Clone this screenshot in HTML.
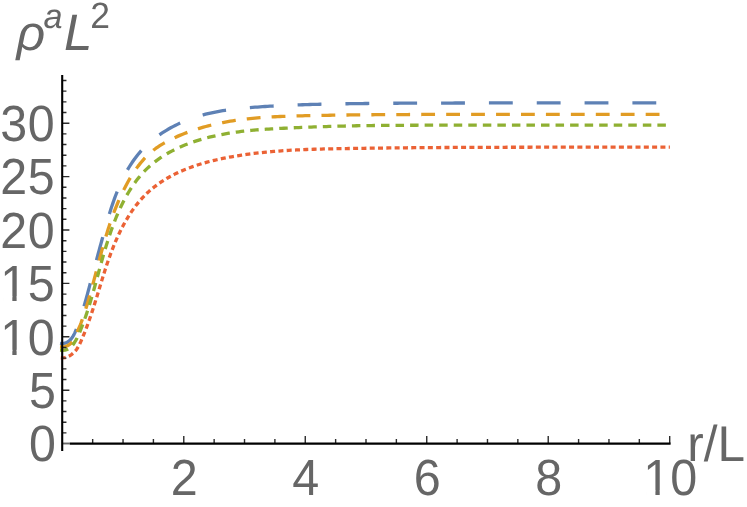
<!DOCTYPE html>
<html><head><meta charset="utf-8"><title>Plot</title>
<style>
html,body{margin:0;padding:0;background:#fff;}
body{width:747px;height:507px;overflow:hidden;font-family:"Liberation Sans",sans-serif;}
svg{display:block;}
</style></head><body>
<svg width="747" height="507" viewBox="0 0 747 507" style="will-change:transform">
<rect width="747" height="507" fill="#fff"/>
<g fill="none" stroke-width="3.3" stroke-linecap="butt" stroke-linejoin="round">
<path stroke="#5E81B5" stroke-dasharray="23.85 23.98" stroke-dashoffset="0" d="M60.01 343.27L62.48 343.57L64.94 343.16L67.24 342.17L69.30 340.77L71.08 339.02L72.58 337.02L73.84 334.86L74.91 332.60L75.87 330.29L76.78 327.96L77.67 325.63L78.52 323.28L79.36 320.92L80.17 318.55L80.95 316.18L81.72 313.80L82.47 311.42L83.20 309.03L83.91 306.63L84.61 304.23L85.30 301.82L85.97 299.42L86.64 297.01L87.29 294.59L87.94 292.18L88.59 289.76L89.23 287.35L89.86 284.93L90.50 282.51L91.14 280.09L91.78 277.68L92.42 275.26L93.07 272.84L93.71 270.43L94.36 268.01L95.00 265.60L95.65 263.18L96.30 260.77L96.95 258.36L97.61 255.94L98.26 253.53L98.91 251.12L99.57 248.70L100.23 246.29L100.89 243.88L101.55 241.47L102.21 239.06L102.87 236.64L103.53 234.23L104.20 231.82L104.87 229.42L105.55 227.01L106.23 224.60L106.92 222.20L107.62 219.80L108.33 217.40L109.06 215.01L109.79 212.62L110.54 210.24L111.31 207.86L112.09 205.48L112.90 203.11L113.72 200.75L114.56 198.40L115.43 196.05L116.32 193.72L117.23 191.39L118.17 189.07L119.14 186.77L120.14 184.48L121.17 182.20L122.23 179.93L123.33 177.69L124.46 175.46L125.63 173.25L126.84 171.06L128.08 168.89L129.37 166.75L130.70 164.63L132.07 162.54L133.49 160.48L134.95 158.45L136.46 156.46L138.01 154.50L139.62 152.58L141.27 150.70L142.97 148.87L144.71 147.08L146.50 145.33L148.33 143.63L150.21 141.98L152.12 140.36L154.07 138.80L156.05 137.27L158.06 135.79L160.11 134.35L162.18 132.96L164.29 131.61L166.42 130.30L168.57 129.03L170.75 127.81L172.95 126.62L175.18 125.48L177.42 124.38L179.69 123.32L181.97 122.29L184.27 121.31L186.58 120.37L188.91 119.46L191.26 118.60L193.62 117.77L195.99 116.98L198.37 116.23L200.77 115.52L203.18 114.85L205.60 114.21L208.02 113.61L210.46 113.05L212.90 112.52L215.35 112.02L217.81 111.56L220.27 111.12L222.74 110.71L225.21 110.33L227.69 109.98L230.16 109.64L232.64 109.33L235.13 109.04L237.61 108.77L240.10 108.51L242.59 108.27L245.08 108.04L247.57 107.82L250.06 107.61L252.55 107.41L255.05 107.21L257.54 107.03L260.03 106.85L262.53 106.68L265.02 106.51L267.52 106.35L270.01 106.20L272.51 106.05L275.00 105.91L277.50 105.78L280.00 105.65L282.50 105.53L284.99 105.41L287.49 105.30L289.99 105.19L292.49 105.09L294.99 104.99L297.48 104.90L299.98 104.81L302.48 104.73L304.98 104.65L307.48 104.57L309.98 104.50L312.48 104.43L314.98 104.36L317.48 104.30L319.98 104.24L322.48 104.18L324.98 104.13L327.48 104.08L329.97 104.03L332.47 103.98L334.97 103.93L337.47 103.89L339.97 103.85L342.47 103.81L344.97 103.77L347.47 103.73L349.97 103.69L352.47 103.66L354.97 103.63L357.47 103.59L359.97 103.56L362.47 103.53L364.97 103.51L367.47 103.48L369.97 103.45L372.47 103.43L374.97 103.41L377.48 103.39L379.98 103.36L382.48 103.34L384.98 103.32L387.48 103.31L389.98 103.29L392.48 103.27L394.98 103.25L397.48 103.24L399.98 103.22L402.48 103.21L404.98 103.20L407.48 103.18L409.98 103.17L412.48 103.16L414.98 103.15L417.48 103.14L419.98 103.13L422.48 103.12L424.98 103.11L427.48 103.10L429.98 103.09L432.48 103.08L434.98 103.07L437.48 103.07L439.98 103.06L442.48 103.05L444.98 103.04L447.48 103.04L449.98 103.03L452.48 103.03L454.98 103.02L457.48 103.02L459.98 103.01L462.48 103.01L464.98 103.00L467.48 103.00L469.98 102.99L472.48 102.99L474.98 102.98L477.48 102.98L479.98 102.98L482.48 102.97L484.99 102.97L487.49 102.97L489.99 102.96L492.49 102.96L494.99 102.96L497.49 102.96L499.99 102.95L502.49 102.95L504.99 102.95L507.49 102.95L509.99 102.95L512.49 102.94L514.99 102.94L517.49 102.94L519.99 102.94L522.49 102.94L524.99 102.93L527.49 102.93L529.99 102.93L532.49 102.93L534.99 102.93L537.49 102.93L539.99 102.93L542.49 102.93L544.99 102.92L547.49 102.92L549.99 102.92L552.49 102.92L554.99 102.92L557.49 102.92L559.99 102.92L562.49 102.92L564.99 102.92L567.49 102.92L569.99 102.92L572.49 102.91L574.99 102.91L577.49 102.91L579.99 102.91L582.50 102.91L585.00 102.91L587.50 102.91L590.00 102.91L592.50 102.91L595.00 102.91L597.50 102.91L600.00 102.91L602.50 102.91L605.00 102.91L607.50 102.91L610.00 102.91L612.50 102.91L615.00 102.91L617.50 102.91L620.00 102.91L622.50 102.91L625.00 102.91L627.50 102.91L630.00 102.91L632.50 102.91L635.00 102.90L637.50 102.90L640.00 102.90L642.50 102.90L645.00 102.90L647.50 102.90L650.00 102.90L652.50 102.90L655.00 102.90L657.50 102.90L660.00 102.90L662.50 102.90L665.00 102.90L667.50 102.90L670.00 102.90"/>
<path stroke="#E19C24" stroke-dasharray="13.82 11.12" stroke-dashoffset="0" d="M60.01 346.76L62.50 346.99L64.97 346.65L67.32 345.81L69.47 344.54L71.37 342.92L72.96 340.99L74.25 338.85L75.32 336.59L76.26 334.28L77.18 331.95L78.16 329.65L79.20 327.37L80.19 325.08L81.10 322.75L81.95 320.40L82.77 318.04L83.57 315.67L84.35 313.29L85.12 310.91L85.87 308.53L86.61 306.14L87.34 303.74L88.05 301.35L88.76 298.95L89.45 296.55L90.13 294.14L90.81 291.73L91.48 289.32L92.14 286.91L92.79 284.50L93.44 282.08L94.09 279.67L94.73 277.25L95.37 274.83L96.01 272.41L96.64 270.00L97.28 267.58L97.92 265.16L98.56 262.74L99.20 260.33L99.85 257.91L100.50 255.49L101.15 253.08L101.81 250.67L102.48 248.26L103.16 245.85L103.84 243.45L104.54 241.04L105.24 238.64L105.96 236.25L106.68 233.86L107.42 231.47L108.18 229.08L108.95 226.70L109.73 224.33L110.53 221.96L111.35 219.60L112.18 217.24L113.03 214.89L113.91 212.54L114.80 210.21L115.71 207.88L116.65 205.56L117.61 203.25L118.59 200.95L119.59 198.66L120.62 196.38L121.68 194.12L122.76 191.86L123.87 189.62L125.00 187.39L126.16 185.18L127.35 182.98L128.57 180.79L129.82 178.63L131.11 176.48L132.43 174.36L133.79 172.26L135.19 170.19L136.63 168.14L138.11 166.13L139.64 164.15L141.22 162.21L142.84 160.31L144.52 158.45L146.25 156.65L148.03 154.89L149.86 153.19L151.75 151.55L153.69 149.98L155.69 148.47L157.73 147.03L159.82 145.65L161.94 144.32L164.09 143.06L166.28 141.84L168.49 140.67L170.72 139.54L172.97 138.45L175.24 137.40L177.52 136.38L179.82 135.39L182.13 134.43L184.45 133.50L186.78 132.60L189.13 131.73L191.49 130.90L193.85 130.09L196.23 129.31L198.61 128.56L201.01 127.84L203.41 127.15L205.82 126.49L208.24 125.85L210.67 125.24L213.10 124.65L215.54 124.09L217.98 123.56L220.43 123.05L222.88 122.56L225.34 122.10L227.80 121.66L230.26 121.24L232.73 120.85L235.21 120.47L237.68 120.11L240.16 119.78L242.64 119.46L245.12 119.16L247.61 118.88L250.09 118.61L252.58 118.36L255.07 118.13L257.56 117.91L260.05 117.70L262.55 117.51L265.04 117.33L267.54 117.17L270.03 117.01L272.53 116.87L275.03 116.73L277.52 116.61L280.02 116.50L282.52 116.39L285.02 116.29L287.52 116.20L290.02 116.12L292.52 116.04L295.02 115.97L297.52 115.90L300.02 115.84L302.52 115.78L305.02 115.72L307.52 115.67L310.02 115.62L312.52 115.57L315.02 115.52L317.52 115.47L320.02 115.42L322.52 115.38L325.02 115.33L327.52 115.29L330.02 115.24L332.52 115.20L335.02 115.16L337.52 115.12L340.02 115.09L342.52 115.05L345.02 115.02L347.52 114.98L350.02 114.95L352.52 114.92L355.03 114.90L357.53 114.87L360.03 114.84L362.53 114.82L365.03 114.80L367.53 114.77L370.03 114.75L372.53 114.73L375.03 114.71L377.53 114.69L380.03 114.68L382.53 114.66L385.03 114.64L387.53 114.63L390.03 114.61L392.53 114.60L395.04 114.59L397.54 114.57L400.04 114.56L402.54 114.55L405.04 114.54L407.54 114.53L410.04 114.52L412.54 114.51L415.04 114.50L417.54 114.49L420.04 114.48L422.54 114.47L425.04 114.47L427.54 114.46L430.05 114.45L432.55 114.44L435.05 114.44L437.55 114.43L440.05 114.43L442.55 114.42L445.05 114.41L447.55 114.41L450.05 114.40L452.55 114.40L455.05 114.40L457.55 114.39L460.05 114.39L462.55 114.38L465.06 114.38L467.56 114.38L470.06 114.37L472.56 114.37L475.06 114.37L477.56 114.36L480.06 114.36L482.56 114.36L485.06 114.35L487.56 114.35L490.06 114.35L492.56 114.35L495.06 114.35L497.56 114.34L500.07 114.34L502.57 114.34L505.07 114.34L507.57 114.34L510.07 114.33L512.57 114.33L515.07 114.33L517.57 114.33L520.07 114.33L522.57 114.33L525.07 114.33L527.57 114.33L530.07 114.32L532.57 114.32L535.08 114.32L537.58 114.32L540.08 114.32L542.58 114.32L545.08 114.32L547.58 114.32L550.08 114.32L552.58 114.32L555.08 114.32L557.58 114.31L560.08 114.31L562.58 114.31L565.08 114.31L567.59 114.31L570.09 114.31L572.59 114.31L575.09 114.31L577.59 114.31L580.09 114.31L582.59 114.31L585.09 114.31L587.59 114.31L590.09 114.31L592.59 114.31L595.09 114.31L597.59 114.31L600.09 114.31L602.60 114.31L605.10 114.31L607.60 114.31L610.10 114.31L612.60 114.31L615.10 114.31L617.60 114.30L620.10 114.30L622.60 114.30L625.10 114.30L627.60 114.30L630.10 114.30L632.60 114.30L635.10 114.30L637.61 114.30L640.11 114.30L642.61 114.30L645.11 114.30L647.61 114.30L650.11 114.30L652.61 114.30L655.11 114.30L657.61 114.30L660.11 114.30L662.61 114.30L665.11 114.30L667.61 114.30L670.11 114.30"/>
<path stroke="#8FB032" stroke-dasharray="8.5 6.046" stroke-dashoffset="0.2" d="M60.03 350.10L62.53 350.26L65.03 350.10L67.44 349.44L69.62 348.20L71.49 346.53L73.09 344.61L74.49 342.53L75.76 340.37L76.94 338.16L78.05 335.91L79.09 333.62L80.08 331.32L81.02 329.00L81.94 326.66L82.83 324.32L83.70 321.97L84.55 319.61L85.38 317.24L86.19 314.87L86.98 312.49L87.76 310.11L88.52 307.72L89.27 305.32L90.01 302.93L90.74 300.53L91.45 298.12L92.15 295.72L92.85 293.31L93.54 290.90L94.21 288.48L94.89 286.07L95.56 283.65L96.22 281.23L96.88 278.81L97.54 276.39L98.20 273.97L98.86 271.55L99.52 269.14L100.18 266.72L100.84 264.30L101.52 261.88L102.19 259.47L102.87 257.06L103.56 254.65L104.26 252.24L104.97 249.83L105.69 247.43L106.42 245.03L107.17 242.64L107.93 240.25L108.70 237.86L109.49 235.48L110.29 233.11L111.12 230.74L111.96 228.38L112.82 226.02L113.70 223.67L114.60 221.33L115.52 219.00L116.47 216.68L117.44 214.37L118.43 212.06L119.45 209.78L120.50 207.50L121.58 205.24L122.69 202.99L123.83 200.75L125.01 198.54L126.21 196.34L127.45 194.16L128.73 192.00L130.05 189.87L131.40 187.76L132.79 185.67L134.22 183.61L135.70 181.58L137.21 179.59L138.77 177.62L140.38 175.70L142.03 173.81L143.73 171.96L145.47 170.16L147.26 168.41L149.10 166.70L150.98 165.04L152.90 163.43L154.86 161.87L156.86 160.36L158.90 158.90L160.97 157.48L163.07 156.11L165.20 154.79L167.36 153.52L169.54 152.28L171.75 151.10L173.98 149.95L176.23 148.85L178.51 147.78L180.79 146.76L183.10 145.77L185.42 144.83L187.76 143.92L190.11 143.04L192.47 142.20L194.85 141.40L197.23 140.62L199.63 139.88L202.03 139.17L204.45 138.49L206.87 137.84L209.30 137.22L211.73 136.63L214.18 136.07L216.63 135.53L219.08 135.02L221.54 134.53L224.00 134.07L226.47 133.63L228.95 133.22L231.42 132.82L233.90 132.45L236.39 132.10L238.87 131.77L241.36 131.46L243.85 131.17L246.34 130.89L248.84 130.63L251.33 130.39L253.83 130.16L256.33 129.95L258.83 129.74L261.33 129.55L263.83 129.37L266.33 129.20L268.83 129.04L271.34 128.89L273.84 128.75L276.34 128.61L278.85 128.48L281.35 128.35L283.86 128.23L286.36 128.11L288.86 127.99L291.37 127.87L293.87 127.76L296.38 127.65L298.88 127.55L301.39 127.44L303.90 127.34L306.40 127.24L308.91 127.14L311.41 127.05L313.92 126.96L316.42 126.87L318.93 126.78L321.44 126.70L323.94 126.62L326.45 126.54L328.95 126.46L331.46 126.39L333.97 126.31L336.47 126.24L338.98 126.17L341.49 126.11L343.99 126.04L346.50 125.98L349.01 125.92L351.51 125.87L354.02 125.82L356.53 125.77L359.04 125.72L361.54 125.68L364.05 125.64L366.56 125.61L369.06 125.57L371.57 125.54L374.08 125.51L376.59 125.49L379.09 125.46L381.60 125.44L384.11 125.41L386.62 125.39L389.12 125.37L391.63 125.36L394.14 125.34L396.65 125.32L399.15 125.31L401.66 125.29L404.17 125.28L406.68 125.27L409.18 125.26L411.69 125.25L414.20 125.24L416.71 125.23L419.21 125.22L421.72 125.21L424.23 125.20L426.74 125.20L429.24 125.19L431.75 125.19L434.26 125.18L436.77 125.17L439.27 125.17L441.78 125.16L444.29 125.16L446.80 125.16L449.30 125.15L451.81 125.15L454.32 125.15L456.83 125.14L459.33 125.14L461.84 125.14L464.35 125.13L466.86 125.13L469.36 125.13L471.87 125.13L474.38 125.13L476.89 125.12L479.39 125.12L481.90 125.12L484.41 125.12L486.92 125.12L489.42 125.12L491.93 125.12L494.44 125.12L496.95 125.11L499.45 125.11L501.96 125.11L504.47 125.11L506.98 125.11L509.48 125.11L511.99 125.11L514.50 125.11L517.01 125.11L519.51 125.11L522.02 125.11L524.53 125.11L527.04 125.11L529.54 125.11L532.05 125.11L534.56 125.11L537.07 125.10L539.57 125.10L542.08 125.10L544.59 125.10L547.10 125.10L549.60 125.10L552.11 125.10L554.62 125.10L557.13 125.10L559.63 125.10L562.14 125.10L564.65 125.10L567.16 125.10L569.66 125.10L572.17 125.10L574.68 125.10L577.19 125.10L579.69 125.10L582.20 125.10L584.71 125.10L587.22 125.10L589.72 125.10L592.23 125.10L594.74 125.10L597.25 125.10L599.75 125.10L602.26 125.10L604.77 125.10L607.28 125.10L609.78 125.10L612.29 125.10L614.80 125.10L617.31 125.10L619.81 125.10L622.32 125.10L624.83 125.10L627.34 125.10L629.84 125.10L632.35 125.10L634.86 125.10L637.37 125.10L639.87 125.10L642.38 125.10L644.89 125.10L647.40 125.10L649.90 125.10L652.41 125.10L654.92 125.10L657.43 125.10L659.93 125.10L662.44 125.10L664.95 125.10L667.46 125.10L669.96 125.10"/>
<path stroke="#EB6235" stroke-dasharray="5.0 3.306" stroke-dashoffset="-0.8" d="M60.03 357.67L62.52 357.89L65.01 357.60L67.40 356.86L69.66 355.77L71.75 354.38L73.66 352.77L75.39 350.95L76.92 348.97L78.25 346.84L79.41 344.62L80.47 342.35L81.48 340.05L82.47 337.75L83.43 335.44L84.38 333.11L85.30 330.78L86.20 328.44L87.08 326.09L87.95 323.74L88.80 321.38L89.63 319.02L90.45 316.65L91.25 314.27L92.05 311.89L92.83 309.51L93.60 307.13L94.36 304.74L95.11 302.35L95.86 299.95L96.60 297.56L97.34 295.16L98.07 292.76L98.80 290.36L99.52 287.96L100.25 285.56L100.98 283.16L101.71 280.76L102.45 278.37L103.19 275.97L103.94 273.58L104.69 271.19L105.46 268.80L106.24 266.42L107.03 264.04L107.84 261.67L108.66 259.30L109.50 256.93L110.35 254.58L111.23 252.23L112.12 249.89L113.04 247.55L113.98 245.23L114.94 242.91L115.93 240.61L116.94 238.31L117.98 236.03L119.04 233.76L120.13 231.50L121.25 229.26L122.40 227.03L123.58 224.82L124.80 222.62L126.04 220.45L127.31 218.29L128.63 216.15L129.97 214.04L131.36 211.95L132.78 209.88L134.24 207.84L135.74 205.83L137.28 203.86L138.87 201.91L140.49 200.01L142.17 198.14L143.89 196.32L145.65 194.54L147.46 192.80L149.32 191.11L151.21 189.47L153.14 187.87L155.11 186.32L157.12 184.82L159.16 183.36L161.23 181.95L163.33 180.58L165.46 179.26L167.62 177.98L169.80 176.75L172.01 175.55L174.24 174.40L176.49 173.30L178.75 172.23L181.04 171.20L183.34 170.21L185.66 169.25L188.00 168.34L190.34 167.45L192.70 166.60L195.07 165.79L197.45 165.00L199.84 164.25L202.25 163.53L204.65 162.83L207.07 162.16L209.49 161.52L211.93 160.91L214.36 160.31L216.80 159.75L219.25 159.20L221.70 158.68L224.16 158.18L226.62 157.70L229.09 157.23L231.55 156.79L234.02 156.36L236.50 155.95L238.97 155.55L241.45 155.17L243.93 154.81L246.41 154.45L248.90 154.11L251.38 153.79L253.87 153.48L256.36 153.18L258.85 152.90L261.34 152.62L263.84 152.36L266.33 152.11L268.83 151.88L271.33 151.65L273.83 151.44L276.32 151.24L278.82 151.04L281.32 150.86L283.83 150.69L286.33 150.52L288.83 150.37L291.33 150.22L293.84 150.09L296.34 149.96L298.85 149.83L301.35 149.72L303.86 149.61L306.36 149.51L308.87 149.42L311.37 149.33L313.88 149.25L316.38 149.17L318.89 149.10L321.40 149.04L323.90 148.97L326.41 148.92L328.92 148.86L331.42 148.81L333.93 148.76L336.44 148.71L338.94 148.67L341.45 148.63L343.96 148.59L346.47 148.55L348.97 148.51L351.48 148.47L353.99 148.44L356.49 148.40L359.00 148.36L361.51 148.33L364.01 148.29L366.52 148.26L369.03 148.22L371.54 148.19L374.04 148.16L376.55 148.12L379.06 148.09L381.56 148.06L384.07 148.03L386.58 148.00L389.09 147.97L391.59 147.94L394.10 147.91L396.61 147.88L399.11 147.86L401.62 147.83L404.13 147.81L406.64 147.78L409.14 147.76L411.65 147.74L414.16 147.72L416.66 147.70L419.17 147.68L421.68 147.66L424.19 147.64L426.69 147.62L429.20 147.60L431.71 147.59L434.22 147.57L436.72 147.55L439.23 147.54L441.74 147.52L444.24 147.51L446.75 147.50L449.26 147.48L451.77 147.47L454.27 147.46L456.78 147.45L459.29 147.43L461.80 147.42L464.30 147.41L466.81 147.40L469.32 147.39L471.82 147.38L474.33 147.37L476.84 147.36L479.35 147.35L481.85 147.35L484.36 147.34L486.87 147.33L489.38 147.32L491.88 147.31L494.39 147.31L496.90 147.30L499.40 147.29L501.91 147.29L504.42 147.28L506.93 147.27L509.43 147.27L511.94 147.26L514.45 147.26L516.96 147.25L519.46 147.25L521.97 147.24L524.48 147.24L526.98 147.23L529.49 147.23L532.00 147.22L534.51 147.22L537.01 147.22L539.52 147.21L542.03 147.21L544.54 147.20L547.04 147.20L549.55 147.20L552.06 147.19L554.57 147.19L557.07 147.19L559.58 147.19L562.09 147.18L564.59 147.18L567.10 147.18L569.61 147.17L572.12 147.17L574.62 147.17L577.13 147.17L579.64 147.17L582.15 147.16L584.65 147.16L587.16 147.16L589.67 147.16L592.18 147.15L594.68 147.15L597.19 147.15L599.70 147.15L602.20 147.15L604.71 147.15L607.22 147.14L609.73 147.14L612.23 147.14L614.74 147.14L617.25 147.14L619.76 147.14L622.26 147.14L624.77 147.14L627.28 147.13L629.78 147.13L632.29 147.13L634.80 147.13L637.31 147.13L639.81 147.13L642.32 147.13L644.83 147.13L647.34 147.13L649.84 147.13L652.35 147.12L654.86 147.12L657.37 147.12L659.87 147.12L662.38 147.12L664.89 147.12L667.39 147.12L669.90 147.12"/>
</g>
<path d="M62.20 432.92h4.25M62.20 422.24h4.25M62.20 411.56h4.25M62.20 400.88h4.25M62.20 390.20h7.20M62.20 379.52h4.25M62.20 368.84h4.25M62.20 358.16h4.25M62.20 347.48h4.25M62.20 336.80h7.20M62.20 326.12h4.25M62.20 315.44h4.25M62.20 304.76h4.25M62.20 294.08h4.25M62.20 283.40h7.20M62.20 272.72h4.25M62.20 262.04h4.25M62.20 251.36h4.25M62.20 240.68h4.25M62.20 230.00h7.20M62.20 219.32h4.25M62.20 208.64h4.25M62.20 197.96h4.25M62.20 187.28h4.25M62.20 176.60h7.20M62.20 165.92h4.25M62.20 155.24h4.25M62.20 144.56h4.25M62.20 133.88h4.25M62.20 123.20h7.20M62.20 112.52h4.25M62.20 101.84h4.25M62.20 91.16h4.25M62.20 80.48h4.25M92.67 443.50v-4.40M123.04 443.50v-4.40M153.41 443.50v-4.40M183.78 443.50v-7.40M214.15 443.50v-4.40M244.52 443.50v-4.40M274.89 443.50v-4.40M305.26 443.50v-7.40M335.63 443.50v-4.40M366.00 443.50v-4.40M396.37 443.50v-4.40M426.74 443.50v-7.40M457.11 443.50v-4.40M487.48 443.50v-4.40M517.85 443.50v-4.40M548.22 443.50v-7.40M578.59 443.50v-4.40M608.96 443.50v-4.40M639.33 443.50v-4.40M669.70 443.50v-7.40" stroke="#2b2b2b" stroke-width="1.4" fill="none"/>
<path d="M62.20 443.50H69.8" stroke="#6a6a6a" stroke-width="1.9" fill="none"/>
<path d="M69.8 443.50H670.6" stroke="#000" stroke-width="2.25" fill="none"/>
<path d="M62.20 74.9V450.9" stroke="#000" stroke-width="2.1" fill="none"/>
<g font-family="'Liberation Sans', sans-serif" font-size="50" fill="#666666" text-rendering="geometricPrecision">
<text transform="translate(55.95 461.40) scale(0.967 1.018)" text-anchor="end">0</text>
<text transform="translate(55.95 408.00) scale(0.967 1.018)" text-anchor="end">5</text>
<text transform="translate(55.45 354.60) scale(0.967 1.018)" text-anchor="end" letter-spacing="0.77">10</text><g transform="translate(55.45 354.60) scale(0.967 1.018)" fill="#fff"><rect x="-54.16" y="-4.74" width="9.57" height="5.74"/><rect x="-40.17" y="-4.74" width="9.01" height="5.74"/></g>
<text transform="translate(55.45 301.20) scale(0.967 1.018)" text-anchor="end" letter-spacing="0.77">15</text><g transform="translate(55.45 301.20) scale(0.967 1.018)" fill="#fff"><rect x="-54.16" y="-4.74" width="9.57" height="5.74"/><rect x="-40.17" y="-4.74" width="9.01" height="5.74"/></g>
<text transform="translate(55.45 247.80) scale(0.967 1.018)" text-anchor="end" letter-spacing="0.77">20</text>
<text transform="translate(55.45 194.40) scale(0.967 1.018)" text-anchor="end" letter-spacing="0.77">25</text>
<text transform="translate(55.45 141.00) scale(0.967 1.018)" text-anchor="end" letter-spacing="0.77">30</text>
<text transform="translate(184.28 495.25) scale(0.97 1.016)" text-anchor="middle">2</text>
<text transform="translate(305.76 495.25) scale(0.97 1.016)" text-anchor="middle">4</text>
<text transform="translate(427.24 495.25) scale(0.97 1.016)" text-anchor="middle">6</text>
<text transform="translate(548.72 495.25) scale(0.97 1.016)" text-anchor="middle">8</text>
<text transform="translate(670.20 495.25) scale(0.97 1.016)" text-anchor="middle">10</text><g transform="translate(670.20 495.25) scale(0.97 1.016)" fill="#fff"><rect x="-24.81" y="-4.74" width="9.57" height="5.74"/><rect x="-10.82" y="-4.74" width="9.01" height="5.74"/></g>
<text transform="translate(687.30 460.90) scale(0.99 1.005)">r/L</text>
<text transform="translate(16.60 50.00) scale(1.0 0.985)" font-style="italic">ρ</text>
<text transform="translate(43.40 28.00) scale(0.977 0.987)" font-style="italic" font-size="35">a</text>
<text transform="translate(64.10 49.80) scale(1.02 1.023)" font-style="italic">L</text>
<text transform="translate(90.30 27.95) scale(1.014 1.046)" font-size="35">2</text>
</g>
</svg>
</body></html>
